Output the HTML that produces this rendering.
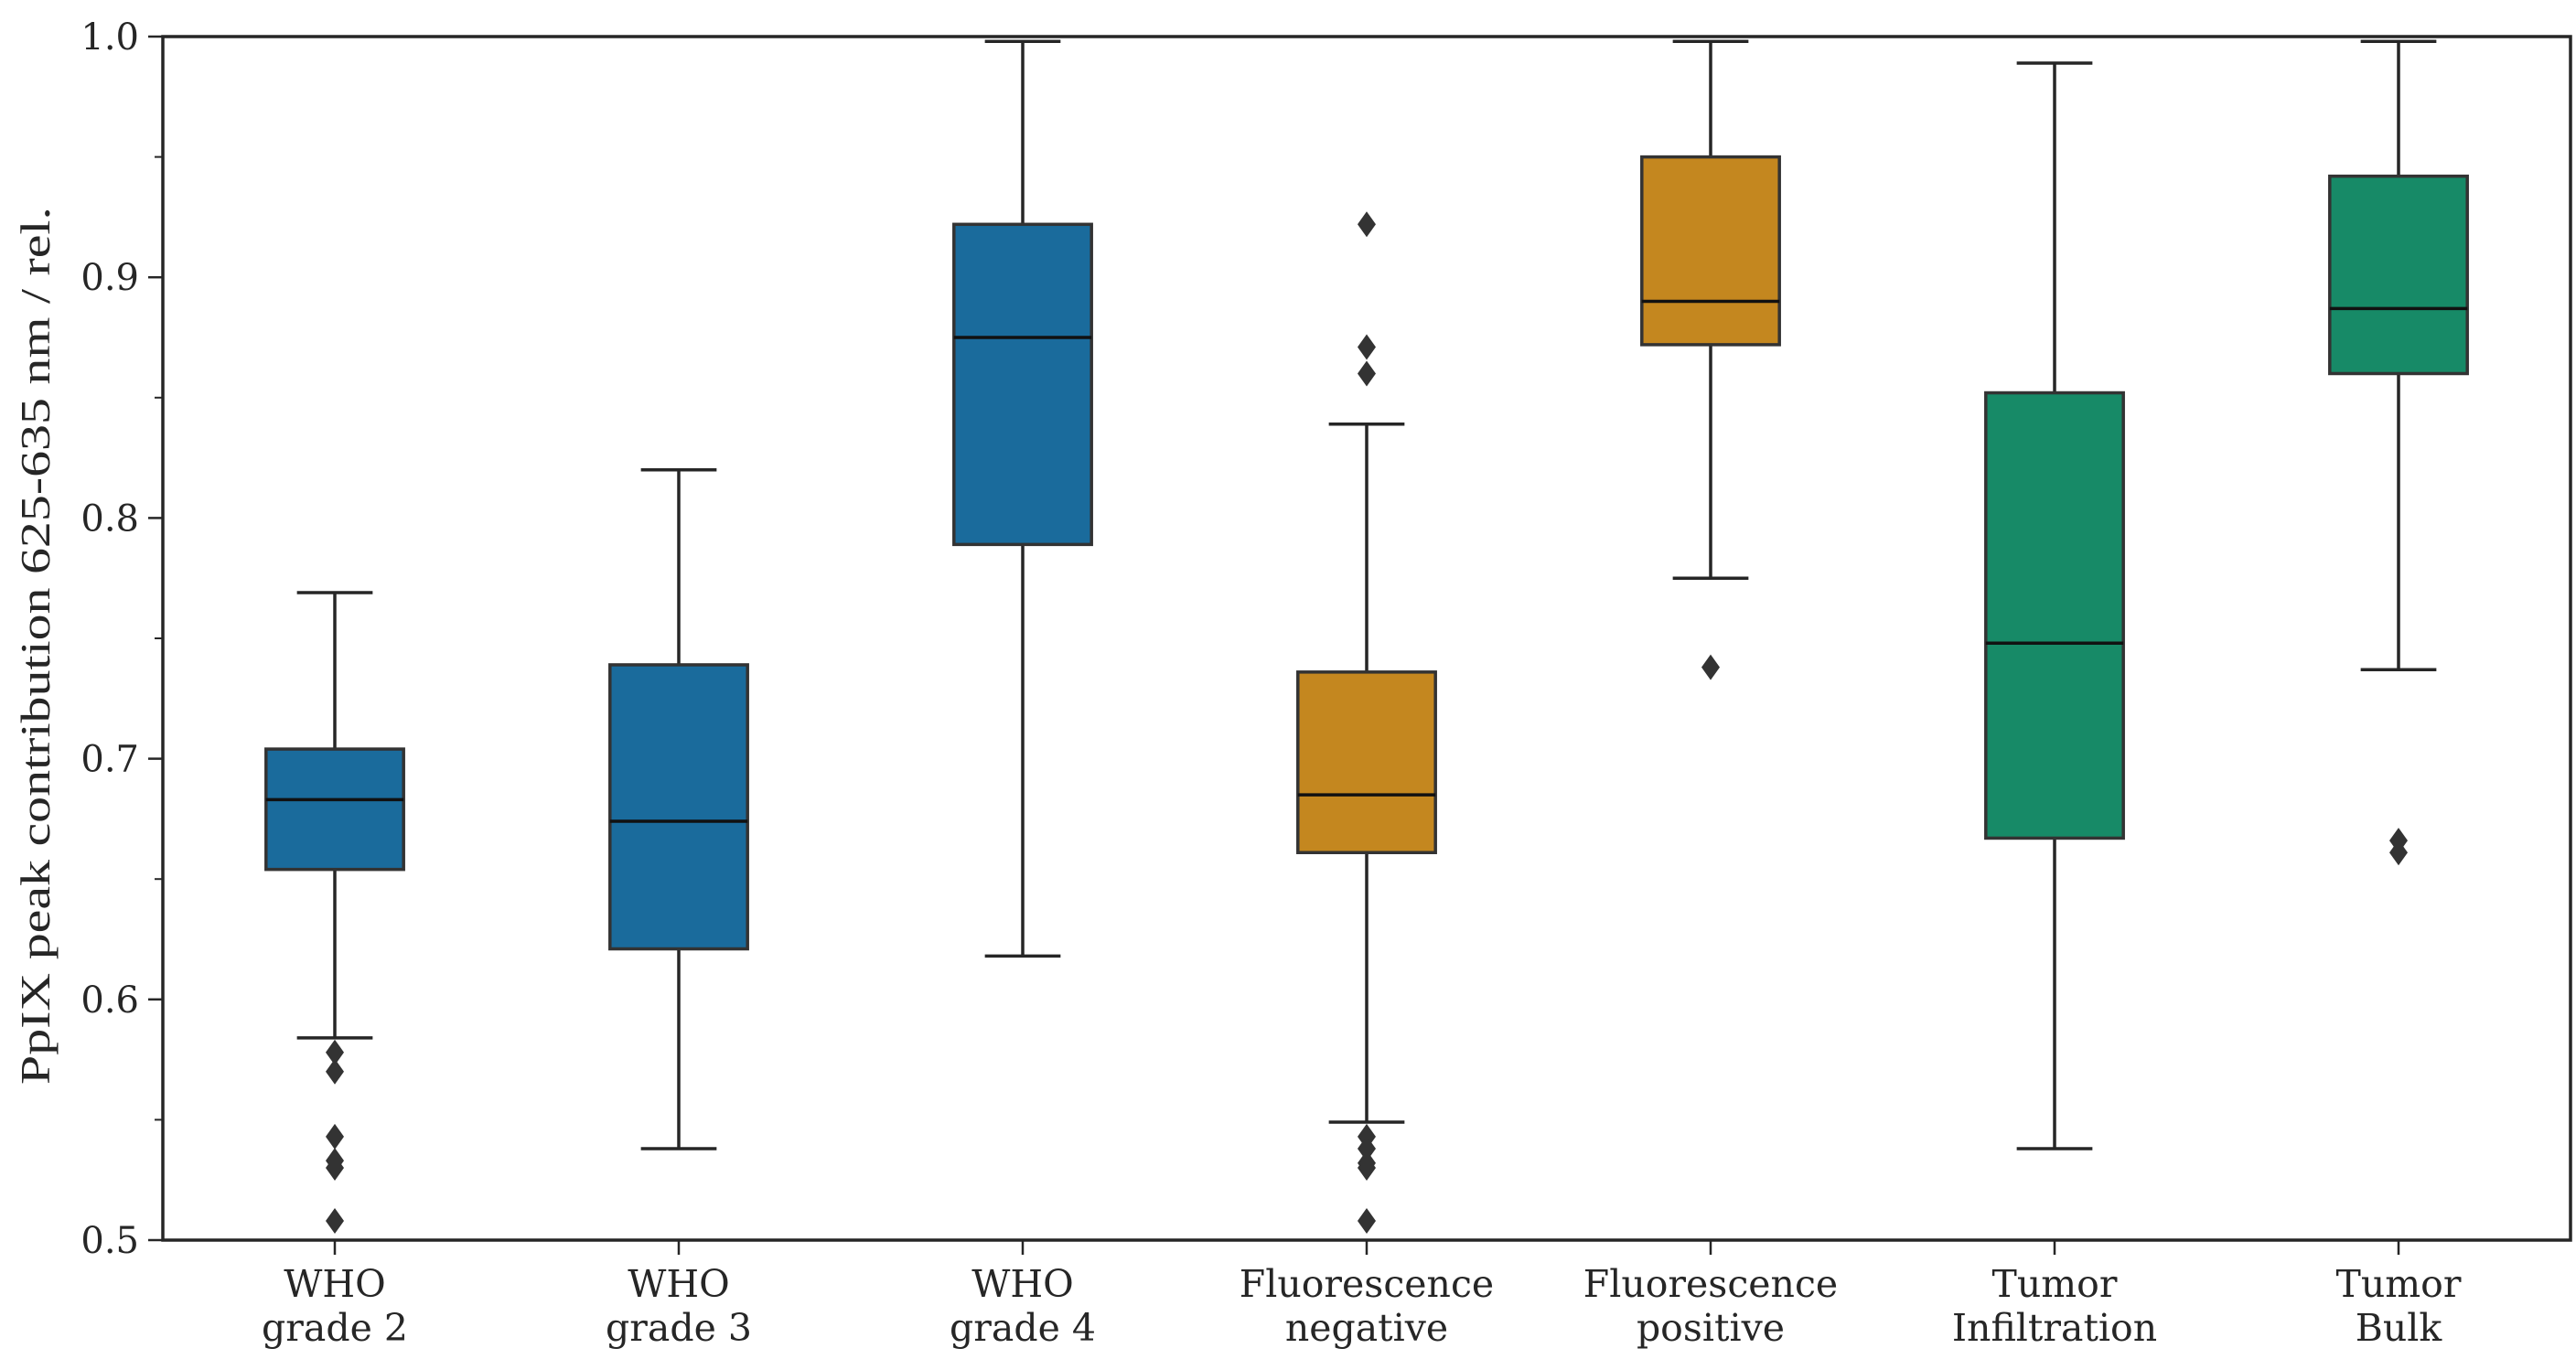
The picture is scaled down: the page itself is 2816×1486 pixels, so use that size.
<!DOCTYPE html>
<html><head><meta charset="utf-8"><style>
html,body{margin:0;padding:0;background:#fff;}
svg{display:block;}
text{fill:#262626;}
</style></head><body>
<svg id="chart" width="2816" height="1486" xmlns="http://www.w3.org/2000/svg">
<g id="plot"></g>
</svg>
<script>
const categories = [["WHO","grade 2"],["WHO","grade 3"],["WHO","grade 4"],["Fluorescence","negative"],["Fluorescence","positive"],["Tumor","Infiltration"],["Tumor","Bulk"]];
const whiskerLow = [0.584,0.538,0.618,0.549,0.775,0.538,0.737];
const q1 = [0.654,0.621,0.789,0.661,0.872,0.667,0.860];
const median = [0.683,0.674,0.875,0.685,0.890,0.748,0.887];
const q3 = [0.704,0.739,0.922,0.736,0.950,0.852,0.942];
const whiskerHigh = [0.769,0.820,0.998,0.839,0.998,0.989,0.998];
const outliers = [[0.578,0.570,0.543,0.533,0.530,0.508],[],[],[0.922,0.871,0.860,0.543,0.538,0.532,0.530,0.508],[0.738],[],[0.666,0.661]];
const colors = ["#1a6b9c","#1a6b9c","#1a6b9c","#c4871f","#c4871f","#178a67","#178a67"];
const yTicks = [0.5,0.6,0.7,0.8,0.9,1.0];
const yMinor = [0.55,0.65,0.75,0.85,0.95];

const L=178,R=2810,T=40,B=1356;
const yMin=0.5,yMax=1.0;
const y=v=>B-(v-yMin)/(yMax-yMin)*(B-T);
const band=(R-L)/categories.length;
const x=i=>L+band*(i+0.5);
const boxW=band*0.4, capW=boxW*0.55;
const g=document.getElementById('plot');
const NS="http://www.w3.org/2000/svg";
function mk(tag,attrs,parent){const e=document.createElementNS(NS,tag);for(const k in attrs)e.setAttribute(k,attrs[k]);(parent||g).appendChild(e);return e;}

yTicks.forEach(v=>{
  const t=mk('line',{x1:L-16,x2:L,y1:y(v),y2:y(v),stroke:'#262626','stroke-width':2.5});
  
  
  const lb=mk('text',{x:L-26,y:y(v)+14,'text-anchor':'end','font-family':'"DejaVu Serif",serif','font-size':40});
  lb.textContent=v.toFixed(1);
  
  
});
yMinor.forEach(v=>{
  const t=mk('line',{x1:L-9,x2:L,y1:y(v),y2:y(v),stroke:'#262626','stroke-width':2});
  
  
});

categories.forEach((c,i)=>{
  const cx=x(i);
  const tk=mk('line',{x1:cx,x2:cx,y1:B,y2:B+16,stroke:'#262626','stroke-width':2.5});
  
  
  c.forEach((s,j)=>{
    const t=mk('text',{x:cx,y:B+62+j*48,'text-anchor':'middle','font-family':'"DejaVu Serif",serif','font-size':41});
    t.textContent=s;
    
    
  });
  const grp=mk('g',{});
  
  
  mk('line',{x1:cx,x2:cx,y1:y(q1[i]),y2:y(whiskerLow[i]),stroke:'#262626','stroke-width':3.5},grp);
  mk('line',{x1:cx,x2:cx,y1:y(q3[i]),y2:y(whiskerHigh[i]),stroke:'#262626','stroke-width':3.5},grp);
  mk('line',{x1:cx-capW/2,x2:cx+capW/2,y1:y(whiskerLow[i]),y2:y(whiskerLow[i]),stroke:'#262626','stroke-width':3.5},grp);
  mk('line',{x1:cx-capW/2,x2:cx+capW/2,y1:y(whiskerHigh[i]),y2:y(whiskerHigh[i]),stroke:'#262626','stroke-width':3.5},grp);
  mk('rect',{x:cx-boxW/2,y:y(q3[i]),width:boxW,height:y(q1[i])-y(q3[i]),fill:colors[i],stroke:'#333','stroke-width':3.5},grp);
  mk('line',{x1:cx-boxW/2,x2:cx+boxW/2,y1:y(median[i]),y2:y(median[i]),stroke:'#111','stroke-width':3.5},grp);
  outliers[i].forEach(v=>{
    const d=mk('path',{d:`M${cx},${y(v)-14}L${cx+10},${y(v)}L${cx},${y(v)+14}L${cx-10},${y(v)}Z`,fill:'#333'});
    
    
  });
});

const frame=mk('rect',{x:L,y:T,width:R-L,height:B-T,fill:'none',stroke:'#262626','stroke-width':3.5});



const yl=mk('text',{x:0,y:0,transform:`translate(54,${(T+B)/2+8}) rotate(-90)`,'text-anchor':'middle','font-family':'"Liberation Serif",serif','font-size':46,'textLength':960,'lengthAdjust':'spacingAndGlyphs'});
yl.textContent='PpIX peak contribution 625-635 nm / rel.';


</script>
</body></html>
